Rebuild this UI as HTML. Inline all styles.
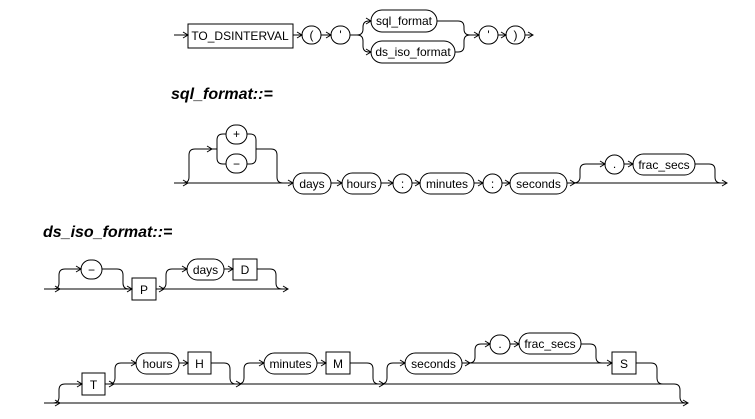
<!DOCTYPE html>
<html><head><meta charset="utf-8"><style>
html,body{margin:0;padding:0;background:#fff;}
svg{display:block}
text{font-family:"Liberation Sans Narrow","Liberation Sans",sans-serif;font-size:12px;fill:#000;text-anchor:middle}
.h{font-family:"Liberation Sans",sans-serif;font-weight:bold;font-style:italic;font-size:16px;text-anchor:start}
path,line,rect{fill:none;stroke:#000;stroke-width:1}
</style></head><body>
<svg width="755" height="419" viewBox="0 0 755 419" xmlns="http://www.w3.org/2000/svg">
<!-- Row 1 -->
<path d="M174 35H188M183 32L188 35L183 38"/>
<rect x="188" y="24" width="105" height="24"/><text x="240" y="40">TO_DSINTERVAL</text>
<path d="M293 35H302M297 32L302 35L297 38"/>
<rect x="302" y="26" width="19" height="18" rx="9"/><text x="311.5" y="39">(</text>
<path d="M321 35H331M326 32L331 35L326 38"/>
<rect x="331" y="26" width="19" height="18" rx="9"/><text x="340.5" y="39">'</text>
<path d="M350 35H357Q363 35 363 29V27Q363 21 369 21H371M366 18L371 21L366 24"/>
<path d="M357 35Q363 35 363 41V46Q363 52 369 52H371M366 49L371 52L366 55"/>
<rect x="371" y="10" width="66" height="22" rx="11"/><text x="404" y="25">sql_format</text>
<rect x="371" y="41" width="84" height="22" rx="11"/><text x="413" y="56">ds_iso_format</text>
<path d="M437 21H458Q464 21 464 27V29Q464 35 470 35"/>
<path d="M455 52H458Q464 52 464 46V41Q464 35 470 35H479M474 32L479 35L474 38"/>
<rect x="479" y="26" width="19" height="18" rx="9"/><text x="488.5" y="39">'</text>
<path d="M498 35H506M501 32L506 35L501 38"/>
<rect x="506" y="26" width="19" height="18" rx="9"/><text x="515.5" y="39">)</text>
<path d="M525 35H533M528 32L533 35L528 38"/>

<g transform="translate(0,-6)">
<text class="h" x="171" y="105">sql_format::=</text>
<path d="M174 189H293M183 186L188 189L183 192M288 186L293 189L288 192"/>
<path d="M183 189Q189 189 189 183V161Q189 155 195 155H217M207 152L212 155L207 158"/>
<path d="M217 146V164M217 146Q217 140 223 140H226M217 164Q217 170 223 170H226"/>
<rect x="226" y="131" width="21" height="19" rx="9.5"/><text x="236.5" y="144">+</text>
<rect x="226" y="160" width="21" height="19" rx="9.5"/><text x="236.5" y="174">−</text>
<path d="M247 140H250Q256 140 256 146V164Q256 170 250 170H247M256 155H271Q277 155 277 161V183Q277 189 283 189"/>
<rect x="293" y="179" width="38" height="21" rx="10.5"/><text x="312" y="194">days</text>
<path d="M331 189H342M337 186L342 189L337 192"/>
<rect x="342" y="179" width="39" height="21" rx="10.5"/><text x="361.5" y="194">hours</text>
<path d="M381 189H393M388 186L393 189L388 192"/>
<rect x="393" y="180" width="19" height="19" rx="9.5"/><text x="402.5" y="194">:</text>
<path d="M412 189H420M415 186L420 189L415 192"/>
<rect x="420" y="179" width="54" height="21" rx="10.5"/><text x="447" y="194">minutes</text>
<path d="M474 189H483M478 186L483 189L478 192"/>
<rect x="483" y="180" width="19" height="19" rx="9.5"/><text x="492.5" y="194">:</text>
<path d="M502 189H510M505 186L510 189L505 192"/>
<rect x="510" y="179" width="57" height="21" rx="10.5"/><text x="538.5" y="194">seconds</text>
<path d="M567 189H727M570 186L575 189L570 192M722 186L727 189L722 192"/>
<path d="M573 189Q580 189 580 183V176Q580 170 586 170H605M600 167L605 170L600 173"/>
<rect x="605" y="161" width="19" height="19" rx="9.5"/><text x="614.5" y="174">.</text>
<path d="M624 170H633M628 167L633 170L628 173"/>
<rect x="633" y="160" width="62" height="21" rx="10.5"/><text x="664" y="175">frac_secs</text>
<path d="M695 170H709Q715 170 715 176V183Q715 189 721 189"/>
</g>

<g transform="translate(0,-8)">
<text class="h" x="43" y="245">ds_iso_format::=</text>
<path d="M44 297H132M55 294L60 297L55 300M127 294L132 297L127 300"/>
<path d="M53 297Q59 297 59 291V283Q59 277 65 277H81M76 274L81 277L76 280"/>
<rect x="81" y="268" width="21" height="19" rx="9.5"/><text x="91.5" y="282">−</text>
<path d="M102 277H117Q123 277 123 283V291Q123 297 129 297"/>
<rect x="132" y="286" width="24" height="22"/><text x="144" y="302">P</text>
<path d="M156 297H288M159 294L164 297L159 300M283 294L288 297L283 300"/>
<path d="M160 297Q166 297 166 291V283Q166 277 172 277H187M182 274L187 277L182 280"/>
<rect x="187" y="267" width="37" height="21" rx="10.5"/><text x="205.5" y="282">days</text>
<path d="M224 277H233M228 274L233 277L228 280"/>
<rect x="233" y="267" width="24" height="21"/><text x="245" y="282">D</text>
<path d="M257 277H270Q276 277 276 283V291Q276 297 282 297"/>

<path d="M44 411H688M55 408L60 411L55 414M683 408L688 411L683 414"/>
<path d="M53 411Q59 411 59 405V398Q59 392 65 392H82M77 389L82 392L77 395"/>
<rect x="82" y="381" width="23" height="22"/><text x="93.5" y="397">T</text>
<path d="M105 392H674Q680 392 680 398V405Q680 411 686 411"/>
<path d="M109 389L114 392L109 395M236 389L241 392L236 395M379 389L384 392L379 395"/>
<path d="M109 392Q115 392 115 386V377Q115 371 121 371H136M131 368L136 371L131 374"/>
<rect x="136" y="361" width="43" height="21" rx="10.5"/><text x="157.5" y="376">hours</text>
<path d="M179 371H188M183 368L188 371L183 374"/>
<rect x="188" y="360" width="23" height="22"/><text x="199.5" y="376">H</text>
<path d="M211 371H224Q230 371 230 377V386Q230 392 236 392"/>
<path d="M238 392Q244 392 244 386V377Q244 371 250 371H264M259 368L264 371L259 374"/>
<rect x="264" y="361" width="53" height="21" rx="10.5"/><text x="290.5" y="376">minutes</text>
<path d="M317 371H326M321 368L326 371L321 374"/>
<rect x="326" y="360" width="24" height="22"/><text x="338" y="376">M</text>
<path d="M350 371H367Q373 371 373 377V386Q373 392 379 392"/>
<path d="M381 392Q387 392 387 386V377Q387 371 393 371H405M400 368L405 371L400 374"/>
<rect x="405" y="361" width="57" height="21" rx="10.5"/><text x="433.5" y="376">seconds</text>
<path d="M462 371H612M465 368L470 371L465 374M607 368L612 371L607 374"/>
<path d="M469 371Q475 371 475 365V358Q475 352 481 352H490M485 349L490 352L485 355"/>
<rect x="490" y="343" width="20" height="19" rx="9.5"/><text x="500" y="356">.</text>
<path d="M510 352H519M514 349L519 352L514 355"/>
<rect x="519" y="341" width="62" height="21" rx="10.5"/><text x="550" y="356">frac_secs</text>
<path d="M581 352H590Q596 352 596 358V365Q596 371 602 371"/>
<rect x="612" y="360" width="24" height="22"/><text x="624" y="376">S</text>
<path d="M636 371H651Q657 371 657 377V386Q657 392 663 392"/>
</g>
</svg>
</body></html>
